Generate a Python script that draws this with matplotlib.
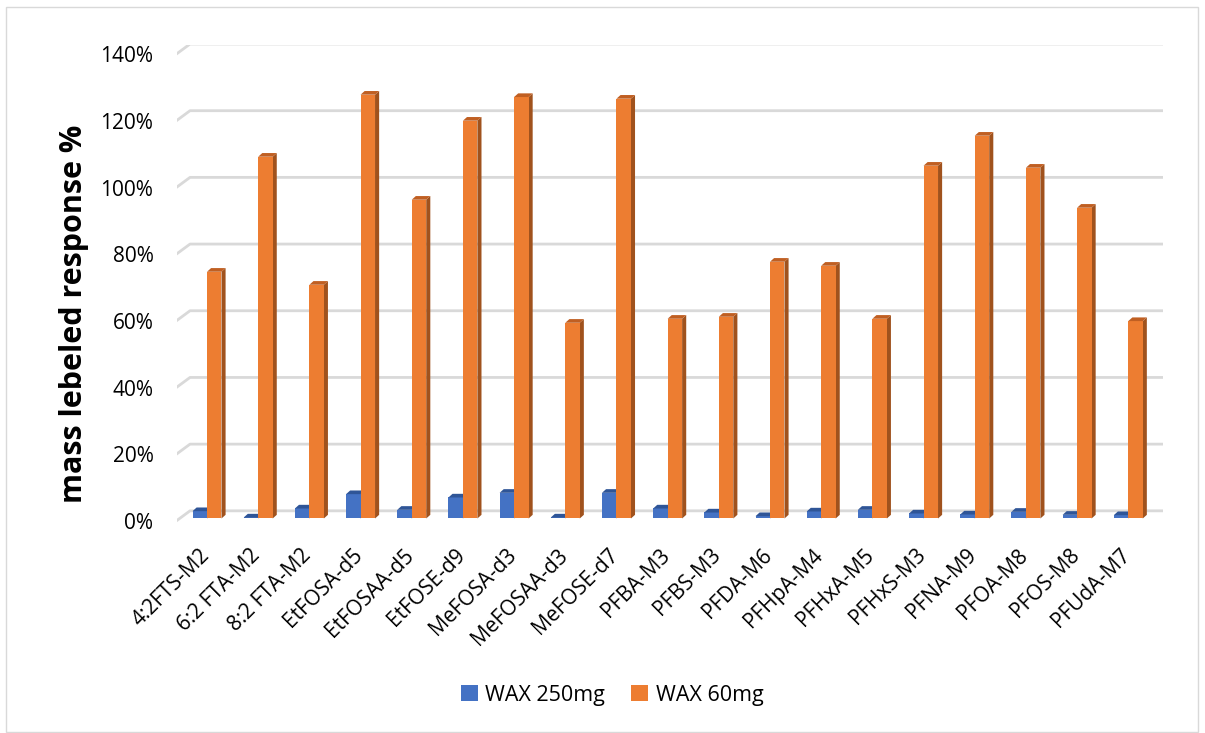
import numpy as np
import matplotlib
matplotlib.use('Agg')
import matplotlib.pyplot as plt
import matplotlib.transforms as mtransforms
from matplotlib.patches import Polygon, Rectangle

plt.rcParams['font.family'] = ['Open Sans', 'DejaVu Sans']

compounds = ['4:2FTS-M2', '6:2 FTA-M2', '8:2 FTA-M2', 'EtFOSA-d5', 'EtFOSAA-d5',
             'EtFOSE-d9', 'MeFOSA-d3', 'MeFOSAA-d3', 'MeFOSE-d7', 'PFBA-M3',
             'PFBS-M3', 'PFDA-M6', 'PFHpA-M4', 'PFHxA-M5', 'PFHxS-M3',
             'PFNA-M9', 'PFOA-M8', 'PFOS-M8', 'PFUdA-M7']
# mass labeled response, % of standard
wax_250mg = [2.2, 0.3, 3.0, 7.3, 2.6, 6.3, 7.7, 0.3, 7.7, 3.0,
             1.8, 0.7, 2.1, 2.6, 1.5, 1.2, 2.0, 1.1, 1.0]
wax_60mg = [74.0, 108.5, 70.1, 127.1, 95.6, 119.3, 126.4, 58.7, 125.9, 59.9,
            60.5, 77.0, 75.8, 59.9, 105.8, 114.8, 105.2, 93.2, 59.2]
yticks = [0, 20, 40, 60, 80, 100, 120, 140]

# colours: front face, top face, side face
BLUE = ('#4472C4', '#2F5597', '#30579A')
ORANGE = ('#ED7D31', '#C05F22', '#A0521D')
GRID = '#D9D9D9'

w = 0.283        # bar width in category units
dx, dy = 0.08, 1.1    # depth offset of the 3d faces


def bar3d(ax, left, heights, colors):
    face, top, side = colors
    bars = ax.bar(left, heights, width=w, align='edge', color=face,
                  linewidth=0, zorder=3)
    for r in bars:
        x0 = r.get_x()
        x1 = x0 + r.get_width()
        h = r.get_height()
        ax.add_patch(Polygon([(x0, h), (x1, h), (x1 + dx, h + dy), (x0 + dx, h + dy)],
                             closed=True, color=top, lw=0, zorder=3))
        ax.add_patch(Polygon([(x1, 0), (x1, h), (x1 + dx, h + dy), (x1 + dx, dy)],
                             closed=True, color=side, lw=0, zorder=2.9))
    return bars


fig = plt.figure(figsize=(12.05, 7.33), dpi=100)
ax = fig.add_axes([0.1469, 0.279, 0.8183, 0.6596])
ax.set_xlim(-0.586, 18.68)
ax.set_ylim(-3, 142)
ax.patch.set_visible(False)
for s in ax.spines.values():
    s.set_visible(False)

# back wall gridlines with the little floor diagonal on the left
for v in yticks:
    ax.plot([-0.606, -0.332, 18.68], [v - 0.8, v + 2.3, v + 2.3],
            color=GRID, lw=2.0, solid_capstyle='butt', zorder=1)

x = np.arange(len(compounds))
b1 = bar3d(ax, x - w, wax_250mg, BLUE)
b2 = bar3d(ax, x, wax_60mg, ORANGE)

ax.set_yticks(yticks)
ax.set_yticklabels([f'{v}%' for v in yticks])
ax.tick_params(axis='y', length=0, pad=17, labelsize=15)
shift_y = mtransforms.ScaledTranslation(0, -0.025, fig.dpi_scale_trans)
for lab in ax.get_yticklabels():
    lab.set_transform(lab.get_transform() + shift_y)

ax.set_xticks(x)
ax.set_xticklabels(compounds, rotation=45, ha='right', va='center',
                   rotation_mode='anchor')
ax.tick_params(axis='x', length=0, pad=17, labelsize=15)
shift_x = mtransforms.ScaledTranslation(-0.01, 0, fig.dpi_scale_trans)
for lab in ax.get_xticklabels():
    lab.set_transform(lab.get_transform() + shift_x)

fig.text(74 / 1205, 1 - 314 / 733, 'mass lebeled response %', rotation=90,
         fontsize=22, fontweight='bold', ha='center', va='center')

fig.legend([b1, b2], ['WAX 250mg', 'WAX 60mg'], loc='center',
           bbox_to_anchor=(612 / 1205, 1 - 695 / 733), ncol=2, frameon=False,
           fontsize=15.5, handlelength=0.8, handleheight=0.8,
           handletextpad=0.35, columnspacing=1.2)

# chart area border
fig.add_artist(Rectangle((0.005, 0.002), 0.989, 0.989, transform=fig.transFigure,
                         fill=False, edgecolor=GRID, lw=1))

fig.savefig('out.png', dpi=100)
